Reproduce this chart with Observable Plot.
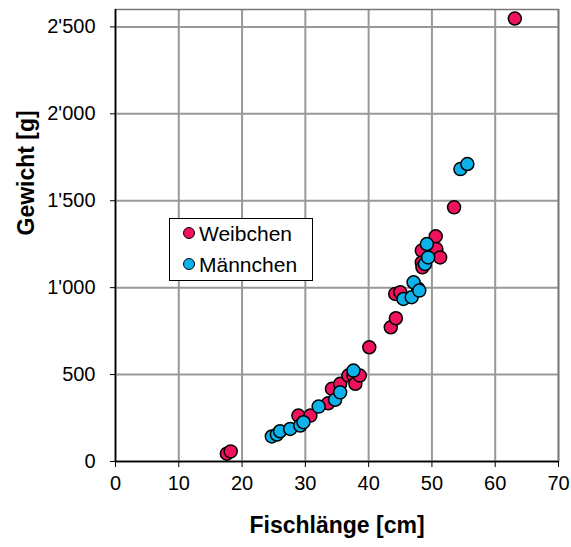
<!DOCTYPE html>
<html>
<head>
<meta charset="utf-8">
<script src="https://cdn.jsdelivr.net/npm/d3@7"></script>
<script src="https://cdn.jsdelivr.net/npm/@observablehq/plot@0.6"></script>
<style>
  html, body { margin: 0; padding: 0; background: #fff; }
  #wrap { position: relative; width: 571px; height: 547px; font-family: "Liberation Sans", Arial, sans-serif; }
  #legend { position: absolute; left: 169px; top: 218px; width: 142px; height: 61px; border: 1px solid #000; background: #fff; }
  .sw { position: absolute; left: 13px; width: 10px; height: 10px; border-radius: 50%; border: 1.5px solid #000; box-sizing: content-box; }
  .lt { position: absolute; left: 29px; font-size: 21px; line-height: 21px; color: #000; white-space: nowrap; }
</style>
</head>
<body>
<div id="wrap"></div>
<script>
const seriesNames = ["Weibchen", "Männchen"];
const seriesColors = ["#f0115f", "#0eb2ea"];
const weibchenX = [17.6, 18.2, 28.9, 30.8, 33.6, 34.2, 35.5, 36.8, 37.6, 37.9, 38.6, 40.1, 43.5, 44.3, 44.2, 45.0, 47.8, 48.4, 48.4, 48.5, 50.6, 50.7, 51.3, 53.5, 63.1];
const weibchenY = [45, 58, 264, 264, 335, 418, 447, 494, 494, 447, 494, 657, 772, 824, 964, 973, 995, 1213, 1145, 1117, 1295, 1222, 1174, 1462, 2548];
const maennchenX = [24.7, 25.5, 26.0, 27.6, 29.2, 29.7, 32.1, 34.7, 35.5, 37.6, 45.5, 46.8, 47.1, 48.0, 48.9, 49.2, 49.4, 54.5, 55.6];
const maennchenY = [144, 155, 174, 187, 207, 226, 316, 355, 398, 523, 935, 945, 1031, 983, 1136, 1251, 1174, 1682, 1711];
const xTicks = [0, 10, 20, 30, 40, 50, 60, 70];
const yTicks = [0, 500, 1000, 1500, 2000, 2500];
const xLabel = "Fischlänge [cm]";
const yLabel = "Gewicht [g]";

const data = [
  ...weibchenX.map((x, i) => ({x, y: weibchenY[i], s: seriesNames[0]})),
  ...maennchenX.map((x, i) => ({x, y: maennchenY[i], s: seriesNames[1]}))
];
const fmt = d3.formatLocale({decimal: ".", thousands: "'", grouping: [3], currency: ["", ""]}).format(",");

const chart = Plot.plot({
  width: 571,
  height: 547,
  marginLeft: 115,
  marginRight: 13,
  marginTop: 9,
  marginBottom: 86,
  style: {fontFamily: "'Liberation Sans', Arial, sans-serif", background: "#fff"},
  x: {domain: [0, 70]},
  y: {domain: [0, 2600]},
  color: {domain: seriesNames, range: seriesColors},
  marks: [
    Plot.ruleX(xTicks, {stroke: "#999", strokeWidth: 2}),
    Plot.ruleY(yTicks, {stroke: "#999", strokeWidth: 2}),
    Plot.frame({stroke: "#777", strokeWidth: 1.5}),
    Plot.ruleX([0], {stroke: "#000", strokeWidth: 1.5}),
    Plot.ruleY([0], {stroke: "#000", strokeWidth: 1.5}),
    Plot.axisX({ticks: xTicks, tickSize: 6, tickPadding: 8, fontSize: 20, label: null, stroke: "#000", color: "#000"}),
    Plot.axisY({ticks: yTicks, tickSize: 5, tickPadding: 15, fontSize: 20, label: null, tickFormat: fmt, stroke: "#000", color: "#000"}),
    Plot.dot(data, {x: "x", y: "y", fill: "s", r: 6.5, stroke: "#000", strokeWidth: 1.5}),
    Plot.text([xLabel], {frameAnchor: "bottom", dy: 71, fontSize: 23, fontWeight: "bold", fill: "#000"}),
    Plot.text([yLabel], {frameAnchor: "left", dx: -89, rotate: -90, fontSize: 23, fontWeight: "bold", fill: "#000"})
  ]
});
const wrap = document.getElementById("wrap");
wrap.appendChild(chart);

const legend = document.createElement("div");
legend.id = "legend";
const rowTops = [4, 35];
seriesNames.forEach((name, i) => {
  const sw = document.createElement("span");
  sw.className = "sw";
  sw.style.background = seriesColors[i];
  sw.style.top = (rowTops[i] + 3.5) + "px";
  legend.appendChild(sw);
  const t = document.createElement("span");
  t.className = "lt";
  t.style.top = rowTops[i] + "px";
  t.textContent = name;
  legend.appendChild(t);
});
wrap.appendChild(legend);
</script>
</body>
</html>
